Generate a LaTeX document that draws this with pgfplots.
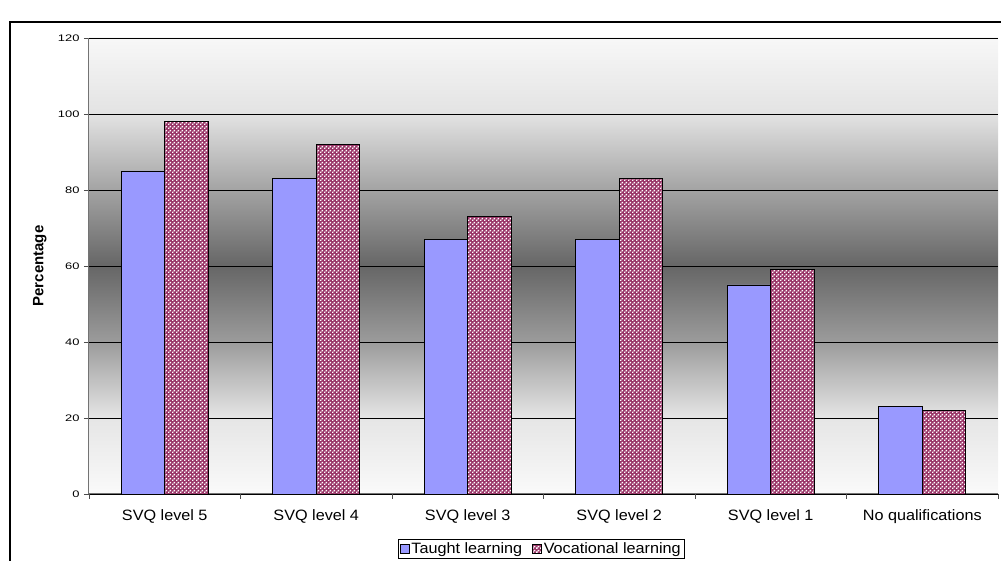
\documentclass[border=0pt]{standalone}
\usepackage{fontspec}
\setmainfont{Liberation Sans}
\usepackage{pgfplots}
\pgfplotsset{compat=1.18}
\usetikzlibrary{patterns}
\pgfdeclarepatternformonly{wdots}{\pgfqpoint{0pt}{0pt}}{\pgfqpoint{4pt}{4pt}}{\pgfqpoint{4pt}{4pt}}{%
  \pgfpathrectangle{\pgfqpoint{0pt}{0pt}}{\pgfqpoint{1.8pt}{1.8pt}}%
  \pgfpathrectangle{\pgfqpoint{2pt}{2pt}}{\pgfqpoint{1.8pt}{1.8pt}}%
  \pgfusepath{fill}}
\pgfdeclareverticalshading{bgshade}{100bp}{color(0bp)=(black!2); color(25bp)=(black!2); color(33.33bp)=(black!10); color(41.67bp)=(black!39); color(50bp)=(black!60); color(58.33bp)=(black!36); color(66.67bp)=(black!11); color(75bp)=(black!3); color(100bp)=(black!3)}
\definecolor{taught}{HTML}{9999FF}
\definecolor{voc}{HTML}{993366}
\newcommand{\wide}[1]{\scalebox{1.08}[1]{#1}}
\begin{document}
\begin{tikzpicture}
\useasboundingbox (-89pt,-67pt) rectangle (912pt,494pt);
\draw[line width=1.5pt] (-79pt,-80pt) -- (-79pt,472pt) -- (930pt,472pt);
\begin{axis}[
  at={(0pt,0pt)}, anchor=south west,
  scale only axis, width=909pt, height=456pt,
  xmin=-0.5, xmax=5.5, ymin=0, ymax=120,
  ybar=0pt, bar width=43.5pt,
  axis background/.style={shading=bgshade},
  axis lines*=left,
  axis line style={black!55, line width=1pt},
  ymajorgrids, major grid style={black, line width=0.8pt},
  ytick={0,20,...,120},
  tick align=outside, major tick length=5pt,
  tick style={black!70, line width=0.8pt},
  /pgf/number format/assume math mode=true,
  yticklabel={\scalebox{1.36}[1]{\pgfmathprintnumber{\tick}}},
  yticklabel style={font=\fontsize{9.5}{11}\selectfont, xshift=-1pt},
  xtick={-0.5,0.5,...,5.5}, xticklabels={},
  extra x ticks={0,1,2,3,4,5},
  extra x tick labels={\wide{SVQ level 5},\wide{SVQ level 4},\wide{SVQ level 3},\wide{SVQ level 2},\wide{SVQ level 1},\wide{No qualifications}},
  extra x tick style={major tick length=0pt, xticklabel style={font=\fontsize{15}{17}\selectfont, yshift=-12pt}},
  ylabel={Percentage},
  ylabel style={at={(axis description cs:-0.054,0.5)}, anchor=center, font=\fontsize{15}{17}\selectfont\bfseries},
  legend style={at={(axis description cs:0.4975,-0.1206)}, anchor=center, legend columns=2, draw=black, line width=0.7pt, font=\fontsize{15}{17}\selectfont, inner sep=1.5pt, nodes={inner sep=2pt}, /tikz/every even column/.append style={column sep=8pt}},
  legend image code/.code={\draw[#1, line width=0.6pt] (0pt,-4.5pt) rectangle (9pt,4.5pt);},
]
\addplot[fill=taught, draw=black, line width=0.8pt] coordinates {(0,85)(1,83)(2,67)(3,67)(4,55)(5,23)};
\addplot[fill=voc, draw=black, line width=0.8pt, postaction={pattern=wdots, pattern color=white}] coordinates {(0,98)(1,92)(2,73)(3,83)(4,59)(5,22)};
\legend{\wide{Taught learning}, \wide{Vocational learning}}
\end{axis}
\end{tikzpicture}
\end{document}
